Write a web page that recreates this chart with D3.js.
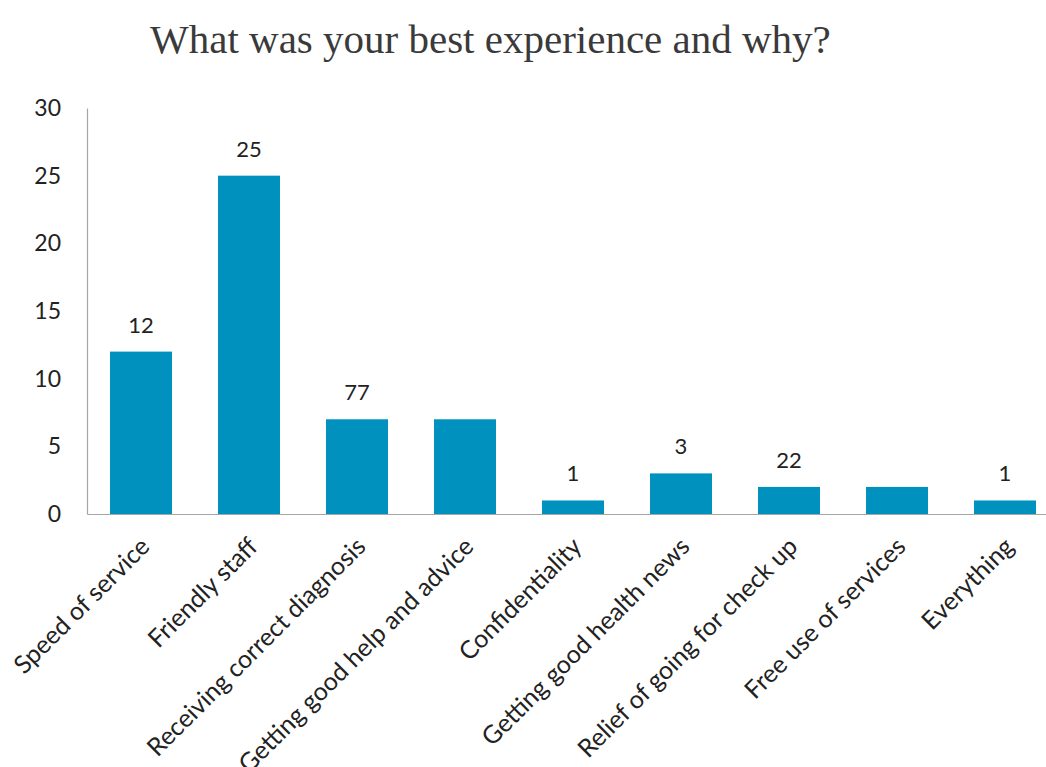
<!DOCTYPE html>
<html>
<head>
<meta charset="utf-8">
<script src="https://cdn.jsdelivr.net/npm/d3@7"></script>
<style>
    body { margin: 0; background: #fff; }
    svg { display: block; }
</style>
</head>
<body>
<svg id="chart"></svg>
<script>
const categories = [
    "Speed of service",
    "Friendly staff",
    "Receiving correct diagnosis",
    "Getting good help and advice",
    "Confidentiality",
    "Getting good health news",
    "Relief of going for check up",
    "Free use of services",
    "Everything"
];
const values = [12, 25, 7, 7, 1, 3, 2, 2, 1];
// labels as printed above the bars (some are doubled / missing in the original)
const valueLabels = ["12", "25", "77", "", "1", "3", "22", "", "1"];
const yTicks = [0, 5, 10, 15, 20, 25, 30];

const width = 1046;
const height = 767;
const margin = { top: 108, left: 87, bottom: 253 };
const plotRight = 1059; // the plot runs a little past the window edge

const svg = d3.select("#chart")
    .attr("width", width)
    .attr("height", height);

svg.append("text")
    .attr("x", 150)
    .attr("y", 53)
    .attr("font-family", "'Liberation Serif', serif")
    .attr("font-size", 41)
    .attr("fill", "#3a3a3a")
    .text("What was your best experience and why?");

const x = d3.scaleBand()
    .domain(categories)
    .range([margin.left, plotRight])
    .paddingInner(0.426)
    .paddingOuter(0.213);

const y = d3.scaleLinear()
    .domain([0, 30])
    .range([height - margin.bottom, margin.top]);

const font = "Lato, 'Open Sans', sans-serif";

// y axis
const yAxis = svg.append("g")
    .attr("transform", `translate(${margin.left},0)`)
    .call(d3.axisLeft(y).tickValues(yTicks).tickSize(0).tickPadding(26));
yAxis.select(".domain").attr("stroke", "#a6a6a6").attr("stroke-width", 1.2);
yAxis.selectAll("text")
    .attr("font-family", font)
    .attr("font-size", 23)
    .attr("fill", "#222");

// bars
svg.append("g")
    .selectAll("rect")
    .data(values)
    .join("rect")
    .attr("x", (d, i) => x(categories[i]))
    .attr("y", d => y(d))
    .attr("width", x.bandwidth())
    .attr("height", d => y(0) - y(d))
    .attr("fill", "#0091bf");

// value labels
svg.append("g")
    .selectAll("text")
    .data(valueLabels)
    .join("text")
    .attr("x", (d, i) => x(categories[i]) + x.bandwidth() / 2)
    .attr("y", (d, i) => y(values[i]) - 19)
    .attr("text-anchor", "middle")
    .attr("font-family", font)
    .attr("font-size", 22)
    .attr("fill", "#222")
    .text(d => d);

// x axis
const xAxis = svg.append("g")
    .attr("transform", `translate(0,${y(0)})`)
    .call(d3.axisBottom(x).tickSize(0).tickPadding(0));
xAxis.select(".domain").attr("stroke", "#a6a6a6").attr("stroke-width", 1.2);
xAxis.selectAll("text")
    .attr("font-family", font)
    .attr("font-size", 25)
    .attr("fill", "#222")
    .attr("text-anchor", "end")
    .attr("dy", "0.35em")
    .attr("transform", "translate(4,28) rotate(-45)");
</script>
</body>
</html>
